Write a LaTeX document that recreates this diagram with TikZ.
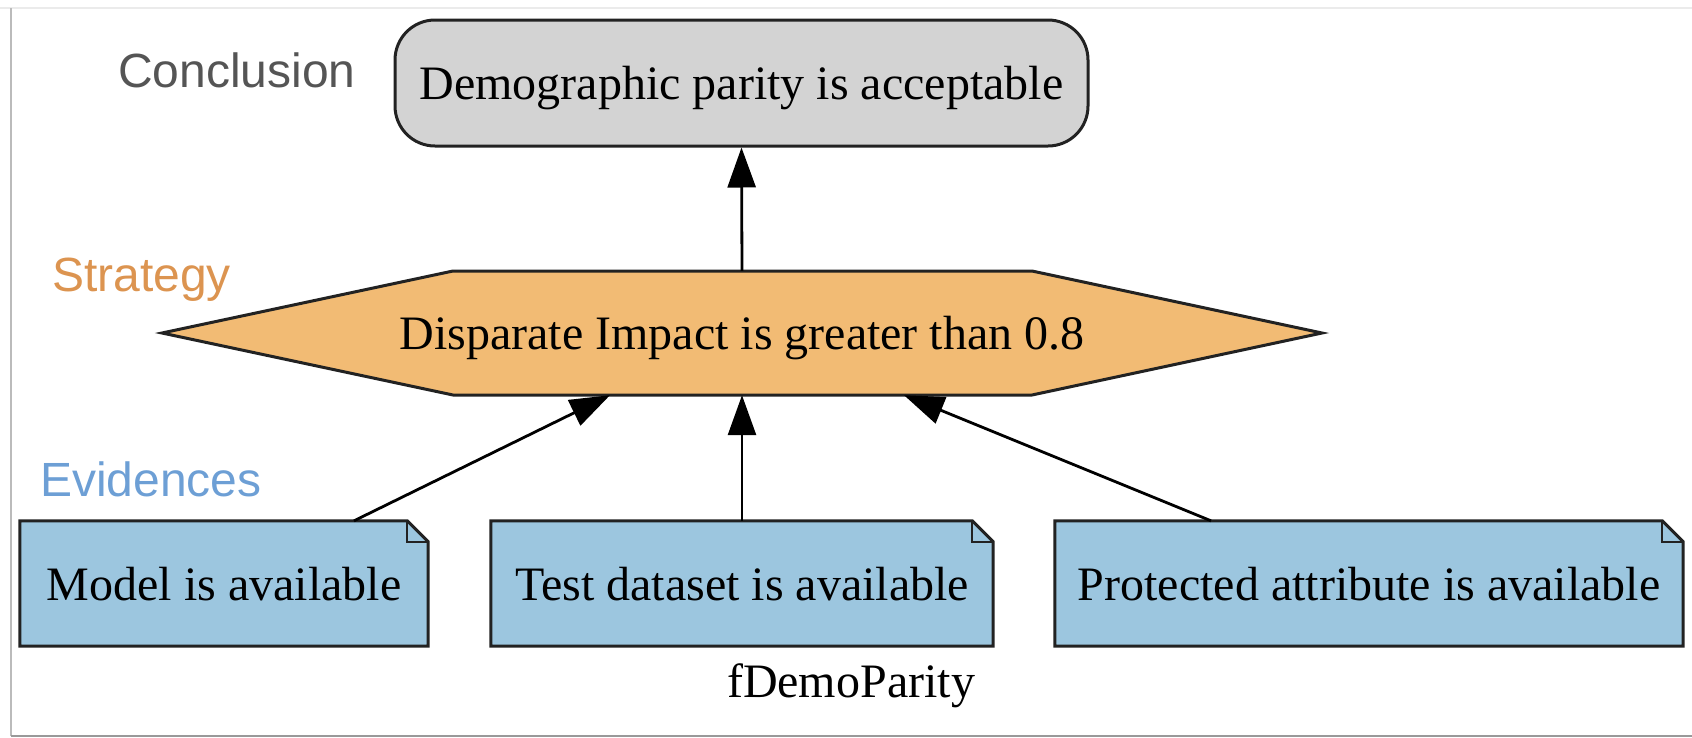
\documentclass[tikz,border=0pt]{standalone}
\usepackage{fontspec}
\setmainfont{Liberation Serif}
\newfontfamily\labelfont{Liberation Sans}
\usetikzlibrary{arrows.meta,backgrounds}
\definecolor{concfill}{HTML}{D3D3D3}
\definecolor{stratfill}{HTML}{F2BB74}
\definecolor{evfill}{HTML}{9CC6DF}
\definecolor{lblgray}{HTML}{555555}
\definecolor{lblorange}{HTML}{DC9450}
\definecolor{lblblue}{HTML}{6D9FD5}
\definecolor{framegray}{HTML}{BBBBBB}
\definecolor{edge}{HTML}{222222}
\begin{document}
\begin{tikzpicture}[x=1pt,y=-1pt,
  nodetext/.style={font=\fontsize{48}{58}\selectfont, text depth=0pt, inner sep=0pt},
  concbox/.style={nodetext, draw=edge, line width=3pt, fill=concfill, rounded corners=40pt, minimum width=693pt, minimum height=126pt},
  stratbox/.style={nodetext, minimum height=124pt},
  evbox/.style={nodetext, fill=evfill, minimum height=125pt},
  outline/.style={draw=edge, line width=3pt, line join=miter},
  arr/.style={draw=black, line width=2.8pt, -{Triangle[length=40pt,width=28pt]}},
  tag/.style={font=\labelfont\fontsize{48}{58}\selectfont, anchor=base west, inner sep=0pt}
]
\useasboundingbox (0,0) rectangle (1692,737);
\draw[black!8, line width=1.5pt] (0,8) -- (1692,8);
\draw[framegray, line width=1.5pt] (11,8) -- (11,736);
\draw[black!40, line width=1.5pt] (11,736) -- (1692,736);

% conclusion
\node[concbox] (conc) at (741.5,83) {Demographic parity is acceptable};

% strategy
\node[stratbox] (strat) at (742,333) {Disparate Impact is greater than 0.8};
\begin{scope}[on background layer]
  \path[outline, fill=stratfill] ([xshift=-289pt,yshift=62pt]strat.center) -- ([xshift=290pt,yshift=62pt]strat.center)
    -- ([xshift=580pt]strat.center) -- ([xshift=290pt,yshift=-62pt]strat.center) -- ([xshift=-289pt,yshift=-62pt]strat.center)
    -- ([xshift=-580pt]strat.center) -- cycle;
\end{scope}

% evidences
\node[evbox, minimum width=408pt] (ev1) at (224,583.5) {Model is available};
\node[evbox, minimum width=502pt] (ev2) at (742,583.5) {Test dataset is available};
\node[evbox, minimum width=628pt] (ev3) at (1369,583.5) {Protected attribute is available};
\foreach \n in {ev1,ev2,ev3}{
  \fill[white] (\n.north east) -- ([xshift=-21pt]\n.north east) -- ([yshift=-21pt]\n.north east) -- cycle;
  \draw[outline] (\n.north west) -- ([xshift=-21pt]\n.north east) -- ([yshift=-21pt]\n.north east)
    -- (\n.south east) -- (\n.south west) -- cycle;
  \draw[outline, line width=2.2pt] ([xshift=-21pt]\n.north east) -- ([xshift=-21pt,yshift=-21pt]\n.north east) -- ([yshift=-21pt]\n.north east);
}

% connectors
\draw[arr] (strat.north) -- (conc.south);
\draw[arr] ([xshift=130pt]ev1.north) -- ([xshift=-132pt]strat.south);
\draw[arr] (ev2.north) -- (ev2.north |- strat.south);
\draw[arr] ([xshift=-158pt]ev3.north) -- ([xshift=162pt]strat.south);

% labels
\node[tag, text=lblgray] (lconc) at (118,87) {Conclusion};
\node[tag, text=lblorange] (lstrat) at (52,291) {Strategy};
\node[tag, text=lblblue] (lev) at (40,496) {Evidences};
\node[nodetext, anchor=base] (title) at (851,697) {fDemoParity};
\end{tikzpicture}
\end{document}
